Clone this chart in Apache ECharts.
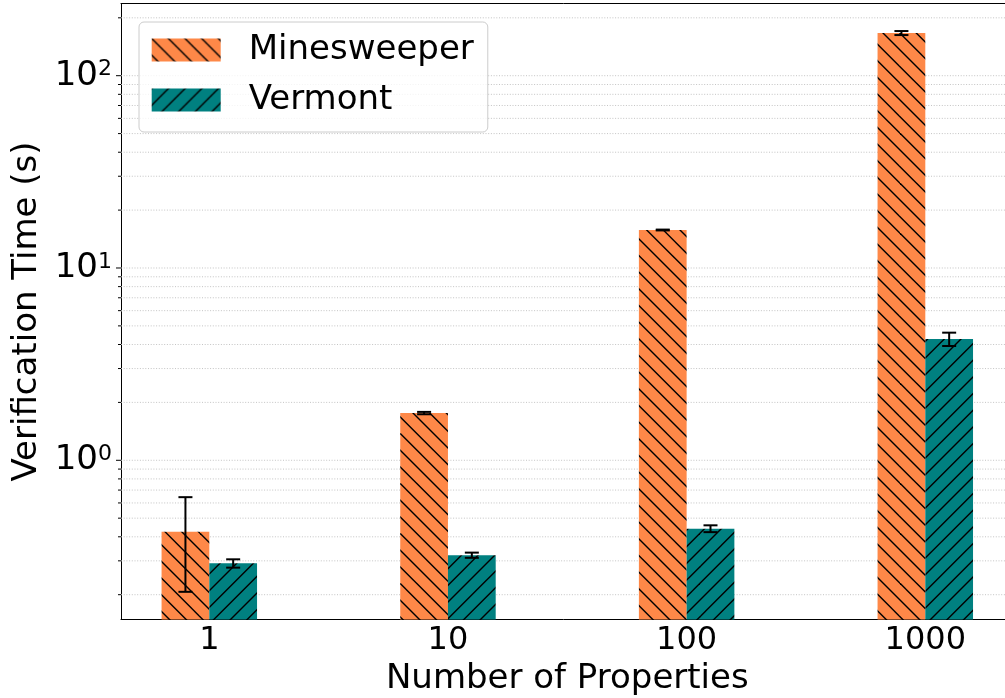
<!DOCTYPE html>
<html>
<head>
<meta charset="utf-8">
<script src="https://cdn.jsdelivr.net/npm/echarts@6/dist/echarts.min.js"></script>
<style>
  html, body { margin: 0; padding: 0; background: #ffffff; }
  #chart { width: 1005px; height: 698px; }
</style>
</head>
<body>
<div id="chart"></div>
<script>
// Verification time per number of properties (log scale), mean ± error
const CATEGORIES = ['1', '10', '100', '1000'];
const MINESWEEPER = [0.425, 1.76, 15.76, 166.7];
const MINESWEEPER_ERR = [0.218, 0.025, 0.08, 4.0];
const VERMONT = [0.291, 0.321, 0.441, 4.27];
const VERMONT_ERR = [0.0145, 0.01, 0.018, 0.34];

// y-axis tick values
const Y_MAJOR = [1, 10, 100];
const Y_MINOR = [0.2, 0.3, 0.4, 0.5, 0.6, 0.7, 0.8, 0.9,
                 2, 3, 4, 5, 6, 7, 8, 9,
                 20, 30, 40, 50, 60, 70, 80, 90, 200];

const FONT = 'DejaVu Sans';
const Y_MIN = 0.1486, Y_MAX = 237.4;
const X_MIN = -0.37, X_MAX = 3.37;
const BAR_W = 0.2;

// diagonal hatch tile; 'back' = '\\', 'fwd' = '/'
function hatch(bg, dir) {
  const size = 100, step = size / 6;
  const c = document.createElement('canvas');
  c.width = size; c.height = size;
  const g = c.getContext('2d');
  g.fillStyle = bg;
  g.fillRect(0, 0, size, size);
  g.strokeStyle = '#000000';
  g.lineWidth = 1.4;
  for (let k = -8; k <= 14; k++) {
    const o = k * step;
    g.beginPath();
    if (dir === 'back') {
      g.moveTo(-10, -10 + o);
      g.lineTo(size + 10, size + 10 + o);
    } else {
      g.moveTo(-10, o + 10);
      g.lineTo(size + 10, o - size - 10);
    }
    g.stroke();
  }
  return { image: c, repeat: 'repeat' };
}

const ORANGE_FILL = hatch('#FE8848', 'back');
const TEAL_FILL = hatch('#008080', 'fwd');

function barSeries(name, values, errs, fill, offset) {
  return {
    type: 'custom',
    name: name,
    coordinateSystem: 'cartesian2d',
    itemStyle: { color: fill },
    encode: { x: 0, y: 1 },
    data: values.map((v, i) => [i, v, errs[i]]),
    z: 3,
    renderItem: function (params, api) {
      const i = api.value(0), v = api.value(1), e = api.value(2);
      const xl = i + offset, xr = xl + BAR_W, xm = xl + BAR_W / 2;
      const tl = api.coord([xl, v]);
      const br = api.coord([xr, Y_MIN]);
      const xc = api.coord([xm, v])[0];
      const yTop = api.coord([xm, v + e])[1];
      const yBot = api.coord([xm, v - e])[1];
      const cap = 7;
      const err = { stroke: '#000000', lineWidth: 2 };
      return {
        type: 'group',
        children: [
          { type: 'rect', shape: { x: tl[0], y: tl[1], width: br[0] - tl[0], height: br[1] - tl[1] },
            style: { fill: fill } },
          { type: 'line', shape: { x1: xc, y1: yTop, x2: xc, y2: yBot }, style: err },
          { type: 'line', shape: { x1: xc - cap, y1: yTop, x2: xc + cap, y2: yTop }, style: err },
          { type: 'line', shape: { x1: xc - cap, y1: yBot, x2: xc + cap, y2: yBot }, style: err }
        ]
      };
    }
  };
}

// dotted gridlines and left ticks at major and minor values
const yTickData = Y_MAJOR.map(v => [X_MIN, v, 1]).concat(Y_MINOR.map(v => [X_MIN, v, 0]));
const gridSeries = {
  type: 'custom',
  name: 'grid',
  coordinateSystem: 'cartesian2d',
  encode: { x: 0, y: 1 },
  data: yTickData,
  z: 1,
  silent: true,
  renderItem: function (params, api) {
    const v = api.value(1), major = api.value(2) === 1;
    const a = api.coord([X_MIN, v]);
    const b = api.coord([X_MAX, v]);
    const len = major ? 5 : 3;
    return {
      type: 'group',
      children: [
        { type: 'line', shape: { x1: a[0], y1: a[1], x2: b[0], y2: b[1] },
          style: { stroke: '#bdbdbd', lineWidth: 0.9, lineDash: [1, 1.7] } },
        { type: 'line', shape: { x1: a[0] - len, y1: a[1], x2: a[0], y2: a[1] },
          style: { stroke: '#000000', lineWidth: 1 } }
      ]
    };
  }
};

const chart = echarts.init(document.getElementById('chart'), null, { renderer: 'canvas' });
chart.setOption({
  animation: false,
  backgroundColor: '#ffffff',
  textStyle: { fontFamily: FONT },
  grid: { left: 121, top: 3.5, width: 892.6, bottom: 78.5, containLabel: false, outerBoundsMode: 'none' },
  legend: {
    orient: 'vertical',
    left: 139,
    top: 22,
    itemWidth: 69,
    itemHeight: 23,
    itemGap: 16,
    padding: [11, 14, 15, 12.7],
    backgroundColor: 'rgba(255,255,255,0.8)',
    borderColor: '#cccccc',
    borderWidth: 1,
    borderRadius: 5,
    icon: 'rect',
    selectedMode: false,
    data: ['Minesweeper', 'Vermont'],
    formatter: name => '{t|' + name + '}',
    textStyle: {
      rich: { t: { fontSize: 34, fontFamily: FONT, color: '#000000', lineHeight: 34, padding: [0, 0, 0, 23] } }
    }
  },
  xAxis: [
    {
      type: 'value',
      min: X_MIN,
      max: X_MAX,
      name: 'Number of Properties',
      nameLocation: 'middle',
      nameGap: 43,
      nameTextStyle: { fontSize: 34, fontFamily: FONT, color: '#000000' },
      axisLine: { show: true, onZero: false, lineStyle: { color: '#000000', width: 1 } },
      axisTick: { show: false },
      splitLine: { show: false },
      axisLabel: {
        customValues: CATEGORIES.map((c, i) => i),
        formatter: v => CATEGORIES[Math.round(v)],
        fontSize: 32,
        fontFamily: FONT,
        color: '#000000',
        margin: 5
      }
    },
    {
      type: 'value',
      position: 'top',
      min: X_MIN,
      max: X_MAX,
      axisLine: { show: true, onZero: false, lineStyle: { color: '#000000', width: 1 } },
      axisTick: { show: false },
      axisLabel: { show: false },
      splitLine: { show: false }
    }
  ],
  yAxis: {
    type: 'log',
    logBase: 10,
    min: Y_MIN,
    max: Y_MAX,
    name: 'Verification Time (s)',
    nameLocation: 'middle',
    nameGap: 76,
    nameTextStyle: { fontSize: 34, fontFamily: FONT, color: '#000000' },
    axisLine: { show: true, onZero: false, lineStyle: { color: '#000000', width: 1 } },
    axisTick: { show: false },
    splitLine: { show: false },
    axisLabel: {
      margin: 9,
      showMinLabel: false,
      showMaxLabel: false,
      formatter: function (v) {
        const l = Math.log10(v), e = Math.round(l);
        if (Math.abs(l - e) > 1e-6) return '';
        return '{b|10}{s|' + e + '}';
      },
      rich: {
        b: { fontSize: 34, fontFamily: FONT, color: '#000000' },
        s: { fontSize: 22, fontFamily: FONT, color: '#000000', verticalAlign: 'top', lineHeight: 18 }
      }
    }
  },
  series: [
    gridSeries,
    barSeries('Minesweeper', MINESWEEPER, MINESWEEPER_ERR, ORANGE_FILL, -BAR_W),
    barSeries('Vermont', VERMONT, VERMONT_ERR, TEAL_FILL, 0)
  ]
});
</script>
</body>
</html>
